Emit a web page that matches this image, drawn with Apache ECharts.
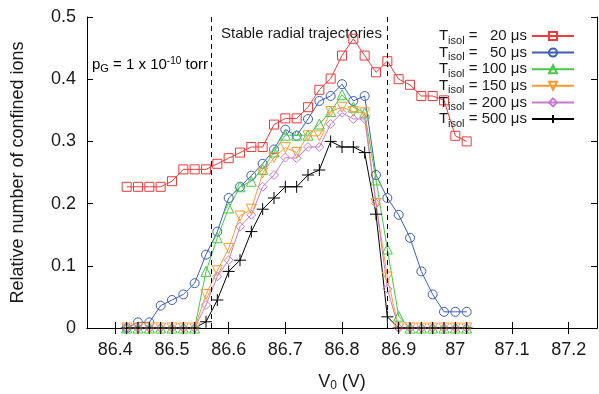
<!DOCTYPE html>
<html><head><meta charset="utf-8">
<script src="https://cdn.jsdelivr.net/npm/echarts@6/dist/echarts.min.js"></script>
<style>html,body{margin:0;padding:0;background:#fff}#c{width:599px;height:394px}</style>
</head><body><div id="c"></div>
<script>
// Trap voltage V0 (V)
const voltages = [86.42,86.44,86.46,86.48,86.50,86.52,86.54,86.56,86.58,86.60,86.62,86.64,86.66,86.68,86.70,86.72,86.74,86.76,86.78,86.80,86.82,86.84,86.86,86.88,86.90,86.92,86.94,86.96,86.98,87.00,87.02];
// Relative number of confined ions for each isolation time
const isol20  = [0.227,0.227,0.227,0.227,0.236,0.255,0.255,0.255,0.264,0.273,0.282,0.291,0.291,0.327,0.337,0.337,0.355,0.383,0.401,0.438,0.465,0.438,0.411,0.429,0.400,0.391,0.373,0.373,0.366,0.309,0.300];
const isol50  = [0,0.009,0.009,0.036,0.045,0.054,0.072,0.118,0.155,0.209,0.227,0.245,0.264,0.287,0.319,0.309,0.336,0.365,0.373,0.392,0.365,0.373,0.246,0.209,0.182,0.145,0.091,0.054,0.026,0.026,0.026];
const isol100 = [0,0,0,0,0,0,0,0.091,0.145,0.193,0.227,0.236,0.255,0.283,0.310,0.310,0.310,0.328,0.348,0.375,0.355,0.346,0.238,0.127,0.019,0,0,0,0,0,0];
const isol150 = [0,0,0,0,0,0,0,0.054,0.092,0.128,0.180,0.191,0.249,0.274,0.290,0.282,0.309,0.309,0.348,0.355,0.348,0.346,0.200,0.082,0,0,0,0,0,0,0];
const isol200 = [0,0,0,0,0,0,0,0.037,0.083,0.109,0.163,0.182,0.227,0.246,0.274,0.273,0.291,0.291,0.328,0.346,0.336,0.336,0.200,0.063,0,0,0,0,0,0,0];
const isol500 = [0,0,0,0,0,0,0,0.010,0.045,0.091,0.109,0.155,0.191,0.209,0.227,0.227,0.246,0.254,0.300,0.291,0.291,0.282,0.183,0.018,0,0,0,0,0,0,0];
const isolLabels = ['  20','  50','100','150','200','500'];
const xTicks = [86.4,86.5,86.6,86.7,86.8,86.9,87.0,87.1,87.2];
const yTicks = [0,0.1,0.2,0.3,0.4,0.5];
const stableBounds = [86.57, 86.88];

const seriesValues = [isol20, isol50, isol100, isol150, isol200, isol500];
const colors = ['#ee3b3b','#3d5db8','#46c846','#ff9a30','#c57ccc','#000000'];
const symbols = ['rect','circle','triangle','triangle','diamond','path://M0,5L10,5M5,0L5,10'];
const rotates = [0,0,0,180,0,0];
const sizes = [9,9,10,10,9,12];

const FONT = '"Liberation Sans", Arial, sans-serif';
const names = isolLabels.map(l => 'T' + l);

const series = seriesValues.map((vals, k) => ({
  name: names[k],
  type: 'line',
  data: voltages.map((v, i) => [v, vals[i]]),
  symbol: symbols[k],
  symbolSize: sizes[k],
  symbolRotate: rotates[k],
  showAllSymbol: true,
  clip: false,
  lineStyle: { color: colors[k], width: 1 },
  itemStyle: { color: k === 5 ? colors[k] : 'rgba(255,255,255,0)', borderColor: colors[k], borderWidth: 1 },
  emphasis: { disabled: true },
  animation: false
}));
series[0].markLine = {
  silent: true, symbol: ['none','none'], label: { show: false },
  lineStyle: { color: '#000', type: [5,4], width: 1 },
  data: stableBounds.map(v => ({ xAxis: v }))
};

const chart = echarts.init(document.getElementById('c'));
const axisCommon = {
  axisLine: { lineStyle: { color: '#000', width: 1 } },
  splitLine: { show: false }
};
chart.setOption({
  animation: false,
  textStyle: { fontFamily: FONT },
  grid: { left: 87, right: 2, top: 17, bottom: 66, containLabel: false, outerBoundsMode: 'none' },
  xAxis: [
    Object.assign({ type: 'value', min: 86.35, max: 87.25, position: 'bottom',
      axisTick: { inside: true, length: 6, lineStyle: { color: '#000' }, customValues: xTicks },
      axisLabel: { customValues: xTicks, color: '#1a1a1a', fontSize: 18, fontFamily: FONT, margin: 13,
        formatter: v => String(Math.round(v * 10) / 10) },
      name: '{a|V}{b|0}{a| (V)}', nameLocation: 'middle', nameGap: 44,
      nameTextStyle: { rich: {
        a: { fontSize: 18, fontFamily: FONT, color: '#1a1a1a' },
        b: { fontSize: 12, fontFamily: FONT, color: '#1a1a1a', padding: [8,0,0,0] } } }
    }, axisCommon),
    Object.assign({ type: 'value', min: 86.35, max: 87.25, position: 'top',
      axisTick: { inside: true, length: 6, lineStyle: { color: '#000' }, customValues: xTicks },
      axisLabel: { show: false } }, axisCommon)
  ],
  yAxis: [
    Object.assign({ type: 'value', min: 0, max: 0.5, interval: 0.1, position: 'left',
      axisTick: { inside: true, length: 6, lineStyle: { color: '#000' } },
      axisLabel: { color: '#1a1a1a', fontSize: 18, fontFamily: FONT, margin: 11 },
      name: 'Relative number of confined ions', nameLocation: 'middle', nameGap: 60,
      nameTextStyle: { fontSize: 18, fontFamily: FONT, color: '#1a1a1a' }
    }, axisCommon),
    Object.assign({ type: 'value', min: 0, max: 0.5, interval: 0.1, position: 'right',
      axisTick: { inside: true, length: 6, lineStyle: { color: '#000' } },
      axisLabel: { show: false } }, axisCommon)
  ],
  legend: {
    orient: 'vertical', right: 19, top: 21, align: 'right',
    itemWidth: 42, itemHeight: 10, itemGap: -3.4,
    selectedMode: false,
    data: names,
    formatter: name => '{t|T}{s|isol}{t| = ' + name.slice(1) + ' μs}',
    textStyle: { rich: {
      t: { fontSize: 15, fontFamily: FONT, color: '#1a1a1a', lineHeight: 17 },
      s: { fontSize: 11, fontFamily: FONT, color: '#1a1a1a', lineHeight: 11, padding: [9,0,0,0] } } }
  },
  graphic: [
    { type: 'text', left: 221, top: 26, style: { text: 'Stable radial trajectories', font: '15px ' + FONT, fill: '#1a1a1a' } },
    { type: 'text', left: 92, top: 56, style: {
      text: '{a|p}{b|G}{a| = 1 x 10}{c|-10}{a| torr}',
      rich: {
        a: { fontSize: 15, fontFamily: FONT, color: '#1a1a1a' },
        b: { fontSize: 11, fontFamily: FONT, color: '#1a1a1a', padding: [8,0,0,0] },
        c: { fontSize: 10, fontFamily: FONT, color: '#1a1a1a', padding: [0,0,8,0] }
      } } }
  ],
  series: series
});
</script></body></html>
